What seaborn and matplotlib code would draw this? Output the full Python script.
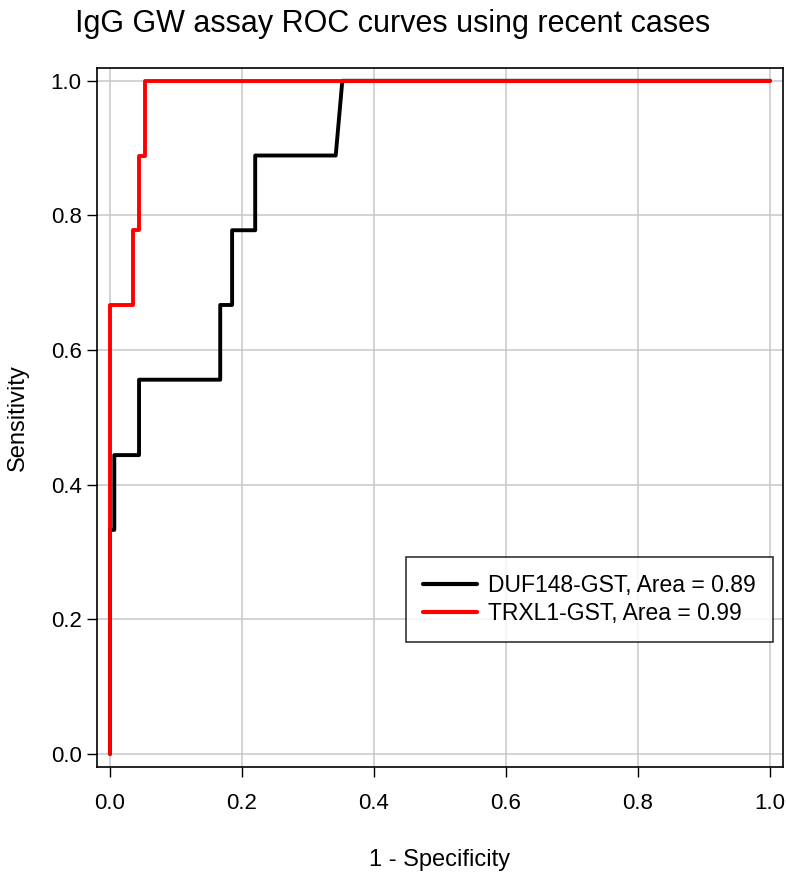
import numpy as np
import pandas as pd
import seaborn as sns
import matplotlib.pyplot as plt

# ROC step points
duf_fpr = [0.0, 0.0, 0.0065, 0.0065, 0.044, 0.044, 0.167, 0.167, 0.185, 0.185, 0.22, 0.22, 0.342, 0.352, 1.0]
duf_tpr = [0.0, 0.333, 0.333, 0.444, 0.444, 0.556, 0.556, 0.667, 0.667, 0.778, 0.778, 0.889, 0.889, 1.0, 1.0]
trx_fpr = [0.0, 0.0, 0.035, 0.035, 0.044, 0.044, 0.0535, 0.0535, 1.0]
trx_tpr = [0.0, 0.667, 0.667, 0.778, 0.778, 0.889, 0.889, 1.0, 1.0]
labels = ["DUF148-GST, Area = 0.89", "TRXL1-GST, Area = 0.99"]
ticks = [0.0, 0.2, 0.4, 0.6, 0.8, 1.0]

sns.set_style("white")
plt.rcParams["font.family"] = ["Liberation Sans", "DejaVu Sans"]
plt.rcParams["text.color"] = "black"
plt.rcParams["axes.labelcolor"] = "black"
plt.rcParams["xtick.color"] = "black"
plt.rcParams["ytick.color"] = "black"

df = pd.concat([
    pd.DataFrame({"fpr": duf_fpr, "tpr": duf_tpr, "curve": labels[0]}),
    pd.DataFrame({"fpr": trx_fpr, "tpr": trx_tpr, "curve": labels[1]}),
], ignore_index=True)

dpi = 100
fig = plt.figure(figsize=(786 / dpi, 872 / dpi), dpi=dpi)
ax = fig.add_axes([97 / 786, 1 - 767 / 872, 686 / 786, 699 / 872])

sns.lineplot(data=df, x="fpr", y="tpr", hue="curve", estimator=None,
             sort=False, palette=["black", "red"], linewidth=2.8, ax=ax)

ax.set_xlim(-0.0197, 1.0197)
ax.set_ylim(-0.0193, 1.019)
ax.set_xticks(ticks)
ax.set_yticks(ticks)
ax.set_xticklabels([f"{t:.1f}" for t in ticks])
ax.set_yticklabels([f"{t:.1f}" for t in ticks])
ax.grid(True, color="#c8c8c8", linewidth=1.1)
ax.set_axisbelow(True)
for s in ax.spines.values():
    s.set_color("black")
    s.set_linewidth(1.2)
ax.tick_params(axis="x", direction="out", length=7, width=1, pad=12, labelsize=16, bottom=True)
ax.tick_params(axis="y", direction="out", length=7, width=1, pad=4, labelsize=16, left=True)

ax.set_xlabel("1 - Specificity", fontsize=17, labelpad=25)
ax.set_ylabel("Sensitivity", fontsize=17, labelpad=16)
fig.suptitle("IgG GW assay ROC curves using recent cases", fontsize=22, x=0.5, y=0.99)

leg = ax.legend(loc="upper left", bbox_to_anchor=(309 / 686, (767 - 557) / 699),
                fontsize=16.5, frameon=True, fancybox=False, edgecolor="black",
                handlelength=2.35, handletextpad=0.5, borderpad=0.75, labelspacing=0.2,
                borderaxespad=0)
leg.get_frame().set_linewidth(1.2)
for line in leg.get_lines():
    line.set_linewidth(3)

plt.savefig("out.png", dpi=dpi)
